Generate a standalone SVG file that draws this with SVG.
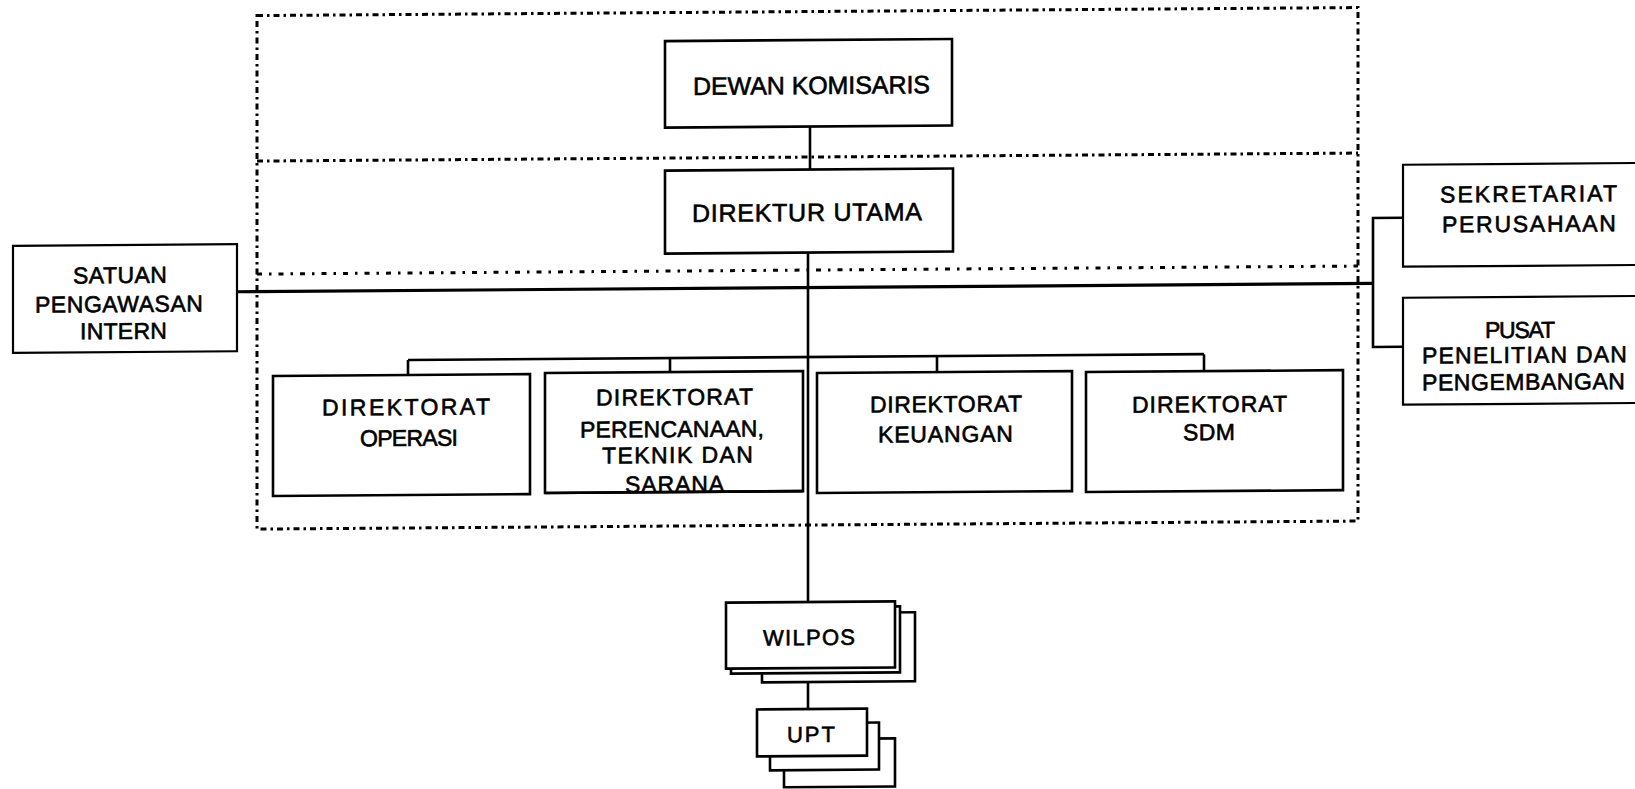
<svg xmlns="http://www.w3.org/2000/svg" width="1635" height="789" viewBox="0 0 1635 789">
<style>
.bg{fill:#ffffff}
.box{fill:#ffffff;stroke:#000;stroke-width:2.6}
.sbox{fill:#ffffff;stroke:#000;stroke-width:2.2}
.frame{fill:none;stroke:#000;stroke-width:3;stroke-dasharray:6 4 2.5 4}
.div1{fill:none;stroke:#000;stroke-width:3;stroke-dasharray:6 4 2.5 4}
.div2{fill:none;stroke:#000;stroke-width:3;stroke-dasharray:5 7 2.5 7}
.line{fill:none;stroke:#000;stroke-width:2.6}
.thick{fill:none;stroke:#000;stroke-width:3.2}
text{font-family:"Liberation Sans",Arial,sans-serif;fill:#000;stroke:#000;stroke-width:0.6;text-anchor:middle}
.t24{font-size:25px}
.t23{font-size:23px}
.t22{font-size:23px}
.t21{font-size:22px}
</style>
<rect class="bg" x="0" y="0" width="1635" height="789"/>
<g transform="matrix(1 -0.0073 0 1 0 5.96)">
  <g id="frame">
    <rect class="frame" x="257" y="11.5" width="1101" height="513.5"/>
    <line class="div1" x1="257" y1="157" x2="1358" y2="157"/>
    <line class="div2" x1="257" y1="270" x2="1358" y2="270"/>
  </g>
  <g id="connectors">
    <line class="line" x1="810" y1="126.5" x2="810" y2="169.5"/>
    <line class="line" x1="808" y1="252.5" x2="808" y2="602"/>
    <line class="thick" x1="237" y1="287.5" x2="1373" y2="287.5"/>
    <polyline class="line" points="1403,222 1373,222 1373,351 1403,351"/>
    <line class="line" x1="408" y1="357" x2="1204" y2="357"/>
    <line class="line" x1="408" y1="357" x2="408" y2="372"/>
    <line class="line" x1="670" y1="357" x2="670" y2="371"/>
    <line class="line" x1="937" y1="357" x2="937" y2="373"/>
    <line class="line" x1="1204" y1="357" x2="1204" y2="374"/>
    <line class="line" x1="808" y1="668" x2="808" y2="709"/>
  </g>
  <g id="dewan-komisaris">
    <rect class="box" x="665" y="40" width="287" height="86.5"/>
    <text class="t24" x="811.5" y="94" textLength="237" lengthAdjust="spacing">DEWAN KOMISARIS</text>
  </g>
  <g id="direktur-utama">
    <rect class="box" x="665" y="169.5" width="288" height="83"/>
    <text class="t24" x="807" y="221" textLength="230" lengthAdjust="spacing">DIREKTUR UTAMA</text>
  </g>
  <g id="satuan-pengawasan-intern">
    <rect class="sbox" x="13" y="240" width="224" height="107"/>
    <text class="t22" x="120" y="278" textLength="94" lengthAdjust="spacing">SATUAN</text>
    <text class="t22" x="119" y="307" textLength="168" lengthAdjust="spacing">PENGAWASAN</text>
    <text class="t22" x="123.5" y="334" textLength="87" lengthAdjust="spacing">INTERN</text>
  </g>
  <g id="sekretariat-perusahaan">
    <rect class="sbox" x="1403" y="169" width="245" height="102"/>
    <text class="t23" x="1528.5" y="207" textLength="177" lengthAdjust="spacing">SEKRETARIAT</text>
    <text class="t23" x="1529" y="237" textLength="174" lengthAdjust="spacing">PERUSAHAAN</text>
  </g>
  <g id="pusat-penelitian">
    <rect class="sbox" x="1403" y="302" width="245" height="107"/>
    <text class="t23" x="1520" y="343" textLength="70" lengthAdjust="spacing">PUSAT</text>
    <text class="t23" x="1524.5" y="368" textLength="205" lengthAdjust="spacing">PENELITIAN DAN</text>
    <text class="t23" x="1523.5" y="395" textLength="203" lengthAdjust="spacing">PENGEMBANGAN</text>
  </g>
  <g id="direktorat-operasi">
    <rect class="box" x="273" y="372" width="257" height="120"/>
    <text class="t22" x="406" y="412" textLength="168" lengthAdjust="spacing">DIREKTORAT</text>
    <text class="t22" x="409" y="443" textLength="98" lengthAdjust="spacing">OPERASI</text>
  </g>
  <g id="direktorat-perencanaan">
    <rect class="box" x="545" y="371" width="258" height="120"/>
    <text class="t22" x="674.5" y="404" textLength="157" lengthAdjust="spacing">DIREKTORAT</text>
    <text class="t22" x="672" y="436" textLength="184" lengthAdjust="spacing">PERENCANAAN,</text>
    <text class="t22" x="677.5" y="462" textLength="151" lengthAdjust="spacing">TEKNIK DAN</text>
    <text class="t22" x="674.5" y="491" textLength="99" lengthAdjust="spacing">SARANA</text>
    <line class="line" x1="545" y1="491" x2="803" y2="491"/>
  </g>
  <g id="direktorat-keuangan">
    <rect class="box" x="817" y="373" width="255" height="120"/>
    <text class="t22" x="946" y="413" textLength="152" lengthAdjust="spacing">DIREKTORAT</text>
    <text class="t22" x="945.5" y="443" textLength="135" lengthAdjust="spacing">KEUANGAN</text>
  </g>
  <g id="direktorat-sdm">
    <rect class="box" x="1086" y="374" width="257" height="120"/>
    <text class="t22" x="1209.5" y="415" textLength="155" lengthAdjust="spacing">DIREKTORAT</text>
    <text class="t22" x="1209" y="443" textLength="52" lengthAdjust="spacing">SDM</text>
  </g>
  <g id="wilpos">
    <rect class="box" x="762" y="613" width="153" height="69"/>
    <rect class="box" x="731" y="607" width="169" height="66"/>
    <rect class="box" x="726" y="602" width="169" height="66"/>
    <text class="t21" x="809" y="645" textLength="92" lengthAdjust="spacing">WILPOS</text>
  </g>
  <g id="upt">
    <rect class="box" x="784" y="739" width="111" height="48"/>
    <rect class="box" x="770" y="723" width="109" height="47"/>
    <rect class="box" x="757" y="709" width="110" height="47"/>
    <text class="t21" x="811" y="742" textLength="48" lengthAdjust="spacing">UPT</text>
  </g>
</g>
</svg>
